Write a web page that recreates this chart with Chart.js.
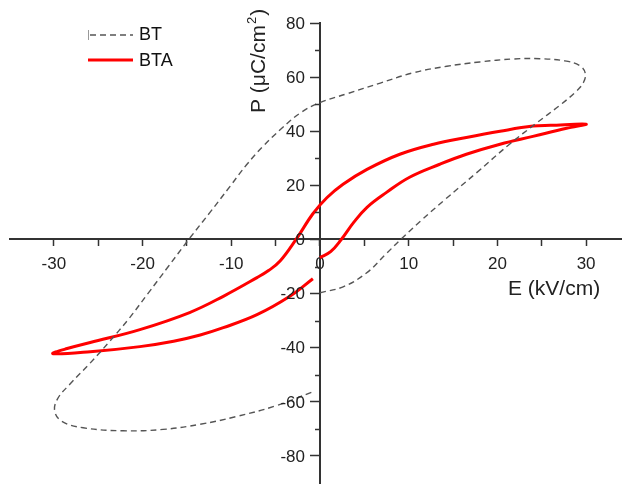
<!DOCTYPE html>
<html>
<head>
<meta charset="utf-8">
<script src="https://cdn.jsdelivr.net/npm/chart.js@4.4.1/dist/chart.umd.min.js"></script>
<style>
  html, body { margin: 0; padding: 0; background: #fff; }
  #wrap { width: 625px; height: 486px; position: relative; }
</style>
</head>
<body>
<div id="wrap"><canvas id="chart-pe" width="625" height="486"></canvas></div>
<script>
/* ── Datos (E en kV/cm, P en µC/cm²) ── */
const btE  = [0, 2.6, 5.2, 7.4, 9.1, 11.4, 14, 17.7, 21.4, 24.4, 27, 28.8, 29.7, 29.9, 29.3, 27.6, 24.8, 21.8, 18, 14.3, 10.5, 6.8, 3, 0, -2.2, -4.4, -6.4, -8.3, -10.1, -12.4, -14.8, -17.1, -19.4, -21.6, -23.8, -26, -28.2, -29.6, -29.9, -29.1, -26.7, -22.2, -17.7, -13.5, -9.5, -5, -0.8];
const btP  = [-19.7, -17.5, -12.5, -5.5, 0, 7, 14.5, 24.8, 35.3, 43, 49.5, 54.5, 58, 61.5, 64.2, 66, 66.8, 66.7, 65.6, 64, 61.6, 57.8, 53.8, 50.6, 46.8, 40.8, 34.5, 27.5, 19.8, 10, 0, -10, -20, -29.5, -38, -46, -53.5, -59, -63.5, -67.2, -69.6, -70.7, -70.2, -68.3, -65.5, -61.5, -56.3];

const btaE = [0, 1.2, 2.4, 3.8, 5.3, 7.5, 10.1, 13.5, 16.5, 20.3, 24, 27.8, 30, 26, 24, 20.3, 16.5, 12.8, 9, 5.3, 2.6, 0.8, -0.8, -2.7, -4.5, -5.8, -7.1, -10.9, -14.7, -20.3, -25.9, -28.5, -30.1, -25.9, -20.3, -16.5, -13.5, -10.9, -7.1, -3.4, -0.8];
const btaP = [-6.7, -4.5, 0, 6.3, 11.9, 17.4, 23, 27.8, 31.5, 35.2, 38.1, 41.1, 42.6, 42.2, 41.9, 40, 37.7, 35.2, 31.5, 25.9, 20.4, 15.5, 9.5, 0, -8, -11.5, -14.1, -21, -27, -33.3, -38.1, -40.3, -42.2, -41.5, -39.6, -37.6, -35.3, -32.6, -27.8, -21, -14.5];

const xTicks  = [-30, -25, -20, -15, -10, -5, 0, 5, 10, 15, 20, 25, 30];
const yTicks  = [-80, -60, -40, -20, 0, 20, 40, 60, 80];
const yMinor  = [-70, -50, -30, -10, 10, 30, 50, 70];

const FONT = "'Liberation Sans', Arial, sans-serif";
const pts = (xs, ys) => xs.map((x, i) => ({ x, y: ys[i] }));

/* ── Extras: etiquetas y ticks menores del eje P, títulos y leyenda ── */
const extras = {
  id: 'extras',
  afterDraw(chart) {
    const { ctx, scales: { x, y } } = chart;
    const x0 = x.getPixelForValue(0);
    ctx.save();

    // ticks menores del eje P
    ctx.strokeStyle = '#333';
    ctx.lineWidth = 1.5;
    yMinor.forEach(v => {
      const py = Math.round(y.getPixelForValue(v)) + 0.5;
      ctx.beginPath(); ctx.moveTo(x0 - 5, py); ctx.lineTo(x0, py); ctx.stroke();
    });

    // etiquetas del eje P (a la izquierda del eje)
    ctx.fillStyle = '#222';
    ctx.font = `17px ${FONT}`;
    ctx.textAlign = 'right';
    ctx.textBaseline = 'middle';
    y.ticks.forEach(t => {
      ctx.fillText(String(t.value), x0 - 15, y.getPixelForValue(t.value) + 1);
    });

    // título eje E
    ctx.font = `21px ${FONT}`;
    ctx.textAlign = 'left';
    ctx.fillText('E (kV/cm)', 508, 289);

    // título eje P (vertical)
    ctx.save();
    ctx.translate(259, 113);
    ctx.rotate(-Math.PI / 2);
    ctx.font = `21px ${FONT}`;
    const base = 'P (\u03BCC/cm';
    ctx.fillText(base, 0, 0);
    let w = ctx.measureText(base).width;
    ctx.font = `13px ${FONT}`;
    ctx.fillText('2', w + 1, -7);
    w += ctx.measureText('2').width + 2;
    ctx.font = `21px ${FONT}`;
    ctx.fillText(')', w, 0);
    ctx.restore();

    // leyenda
    ctx.strokeStyle = '#555';
    ctx.lineWidth = 1.4;
    ctx.setLineDash([6, 4]);
    ctx.beginPath(); ctx.moveTo(90, 35); ctx.lineTo(133, 35); ctx.stroke();
    ctx.setLineDash([]);
    ctx.strokeStyle = '#999';
    ctx.lineWidth = 1;
    ctx.beginPath(); ctx.moveTo(88.5, 30); ctx.lineTo(88.5, 40); ctx.stroke();
    ctx.strokeStyle = '#ff0000';
    ctx.lineWidth = 3;
    ctx.beginPath(); ctx.moveTo(88, 60); ctx.lineTo(133, 60); ctx.stroke();

    ctx.font = `18px ${FONT}`;
    ctx.fillStyle = '#111';
    ctx.fillText('BT', 139, 35);
    ctx.fillText('BTA', 139, 61);

    ctx.restore();
  }
};

const ctx = document.getElementById('chart-pe').getContext('2d');

new Chart(ctx, {
  type: 'scatter',
  data: {
    datasets: [
      {
        label: 'BT',
        data: pts(btE, btP),
        showLine: true,
        borderColor: '#555',
        borderWidth: 1.4,
        borderDash: [6, 4],
        pointRadius: 0,
        tension: 0.4,
      },
      {
        label: 'BTA',
        data: pts(btaE, btaP),
        showLine: true,
        borderColor: '#ff0000',
        borderWidth: 3,
        pointRadius: 0,
        tension: 0.4,
      },
    ],
  },
  options: {
    responsive: false,
    animation: false,
    devicePixelRatio: 1,
    layout: { padding: { left: 9.5, right: 3.4, top: 23, bottom: 3 } },
    plugins: { legend: { display: false }, tooltip: { enabled: false } },
    scales: {
      x: {
        type: 'linear',
        min: -35,
        max: 34,
        position: { y: 0 },
        afterBuildTicks: s => { s.ticks = xTicks.map(v => ({ value: v })); },
        afterFit: s => { s.height = 0; },
        grid: { drawOnChartArea: false, drawTicks: true, tickLength: 6, tickColor: '#333', tickWidth: 1.5 },
        border: { display: true, color: '#333', width: 2 },
        ticks: {
          callback: v => (v % 10 === 0 ? String(v) : ''),
          font: { family: FONT, size: 17 },
          color: '#222',
          padding: 9,
          maxRotation: 0,
          autoSkip: false,
        },
      },
      y: {
        type: 'linear',
        min: -90,
        max: 80,
        position: { x: 0 },
        afterBuildTicks: s => { s.ticks = yTicks.map(v => ({ value: v })); },
        afterFit: s => { s.width = 0; },
        grid: { drawOnChartArea: false, drawTicks: true, tickLength: 9, tickColor: '#333', tickWidth: 1.5 },
        border: { display: true, color: '#333', width: 2 },
        ticks: { display: false },
      },
    },
  },
  plugins: [extras],
});
</script>
</body>
</html>
